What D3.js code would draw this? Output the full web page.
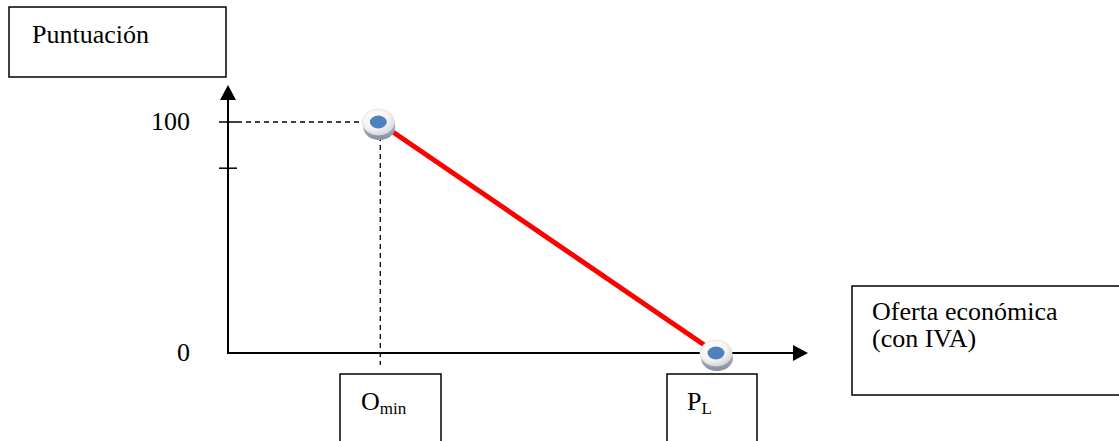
<!DOCTYPE html>
<html>
<head>
<meta charset="utf-8">
<script src="https://cdn.jsdelivr.net/npm/d3@7"></script>
<style>
  body { margin: 0; background: #fff; }
</style>
</head>
<body>
<div id="chart"></div>
<script>
// chart data
var pointNames = ["Omin", "PL"];
var offerValues = [30.8, 100];     // position on the offer axis
var scoreValues = [100, 0];        // puntuación
var yTickValues = [100, 80];
var yTickLabels = ["100", ""];
var zeroLabel = "0";
var yTitle = "Puntuación";
var xTitleLines = ["Oferta económica", "(con IVA)"];
var xBoxLabels = [{main: "O", sub: "min"}, {main: "P", sub: "L"}];

var width = 1119, height = 441;
var serif = "'Liberation Serif', 'Times New Roman', Times, serif";

var svg = d3.select("#chart")
  .append("svg")
    .attr("width", width)
    .attr("height", height)
    .style("font-family", serif);

var defs = svg.append("defs");
var grad = defs.append("radialGradient").attr("id", "btn").attr("cx", "40%").attr("cy", "35%").attr("r", "70%");
grad.append("stop").attr("offset", "0%").attr("stop-color", "#ffffff");
grad.append("stop").attr("offset", "60%").attr("stop-color", "#f4f4f4");
grad.append("stop").attr("offset", "100%").attr("stop-color", "#d2d2d2");
var shade = defs.append("linearGradient").attr("id", "shade").attr("x1", 0).attr("y1", 0).attr("x2", 0).attr("y2", 1);
shade.append("stop").attr("offset", "0%").attr("stop-color", "#c3c9d4");
shade.append("stop").attr("offset", "100%").attr("stop-color", "#8590a3");

// scales
var x = d3.scaleLinear().domain([0, 100]).range([228, 716]);
var y = d3.scaleLinear().domain([0, 100]).range([353, 122]);
var xEnd = 808, yEnd = 85;

// label boxes
svg.append("rect").attr("x", 9).attr("y", 7).attr("width", 217).attr("height", 70)
  .attr("fill", "none").attr("stroke", "#000").attr("stroke-width", 1.5);
svg.append("text").attr("x", 32).attr("y", 43).attr("font-family", serif).style("font-size", "26px").text(yTitle);

svg.append("rect").attr("x", 852).attr("y", 286).attr("width", 280).attr("height", 109)
  .attr("fill", "none").attr("stroke", "#000").attr("stroke-width", 1.5);
svg.selectAll("text.xtitle")
  .data(xTitleLines)
  .enter().append("text")
    .attr("class", "xtitle")
    .attr("x", 872)
    .attr("y", function(d, i) { return 320 + i * 27; })
    .attr("font-family", serif)
    .style("font-size", "26px")
    .text(function(d) { return d; });

// boxes under the x axis
var boxW = [101, 90];
var boxLeft = [340, 667];
var bx = svg.selectAll("g.xbox")
  .data(xBoxLabels)
  .enter().append("g").attr("class", "xbox");
bx.append("rect")
  .attr("x", function(d, i) { return boxLeft[i]; })
  .attr("y", 374)
  .attr("width", function(d, i) { return boxW[i]; })
  .attr("height", 100)
  .attr("fill", "#fff").attr("stroke", "#000").attr("stroke-width", 1.5);
var bt = bx.append("text")
  .attr("x", function(d, i) { return i === 0 ? 361 : 687; })
  .attr("y", 410)
  .attr("font-family", serif)
  .style("font-size", "26px");
bt.append("tspan").text(function(d) { return d.main; });
bt.append("tspan").attr("dy", 4).style("font-size", "17px").text(function(d) { return d.sub; });

// axes
svg.append("line").attr("x1", x(0)).attr("y1", y(0)).attr("x2", xEnd - 12).attr("y2", y(0))
  .attr("stroke", "#000").attr("stroke-width", 2);
svg.append("path")
  .attr("d", "M" + xEnd + "," + y(0) + "L" + (xEnd - 15) + "," + (y(0) - 8) + "L" + (xEnd - 15) + "," + (y(0) + 8) + "Z")
  .attr("fill", "#000");
svg.append("line").attr("x1", x(0)).attr("y1", y(0) + 1).attr("x2", x(0)).attr("y2", yEnd + 12)
  .attr("stroke", "#000").attr("stroke-width", 2);
svg.append("path")
  .attr("d", "M" + x(0) + "," + yEnd + "L" + (x(0) - 8) + "," + (yEnd + 15) + "L" + (x(0) + 8) + "," + (yEnd + 15) + "Z")
  .attr("fill", "#000");

svg.selectAll("line.ytick")
  .data(yTickValues)
  .enter().append("line")
    .attr("class", "ytick")
    .attr("x1", x(0) - 9).attr("x2", x(0) + 9)
    .attr("y1", function(d) { return y(d); })
    .attr("y2", function(d) { return y(d); })
    .attr("stroke", "#000").attr("stroke-width", 1.5);
svg.selectAll("text.ylab")
  .data(yTickValues)
  .enter().append("text")
    .attr("class", "ylab")
    .attr("x", 190)
    .attr("y", function(d) { return y(d) + 8; })
    .attr("text-anchor", "end")
    .attr("font-family", serif)
    .style("font-size", "26px")
    .text(function(d, i) { return yTickLabels[i]; });
svg.append("text").attr("x", 190).attr("y", y(0) + 8).attr("text-anchor", "end")
  .attr("font-family", serif).style("font-size", "26px").text(zeroLabel);

// dashed guides to the top point
svg.append("line").attr("x1", x(0) + 9).attr("y1", y(scoreValues[0])).attr("x2", x(offerValues[0]) - 14).attr("y2", y(scoreValues[0]))
  .attr("stroke", "#000").attr("stroke-width", 1.3).attr("stroke-dasharray", "5,4");
svg.append("line").attr("x1", x(offerValues[0]) + 2).attr("y1", y(scoreValues[0]) + 14).attr("x2", x(offerValues[0]) + 2).attr("y2", y(0) + 12)
  .attr("stroke", "#000").attr("stroke-width", 1.3).attr("stroke-dasharray", "5,4");

// red score line
var pts = pointNames.map(function(n, i) { return {name: n, x: offerValues[i], y: scoreValues[i]}; });
svg.append("path")
  .datum(pts)
  .attr("d", d3.line().x(function(d) { return x(d.x); }).y(function(d) { return y(d.y); }))
  .attr("fill", "none").attr("stroke", "#ff0000").attr("stroke-width", 5);

// button markers
var m = svg.selectAll("g.mark")
  .data(pts)
  .enter().append("g").attr("class", "mark")
    .attr("transform", function(d) { return "translate(" + x(d.x) + "," + y(d.y) + ")"; });
m.append("ellipse").attr("cx", 1).attr("cy", 5).attr("rx", 16).attr("ry", 13).attr("fill", "url(#shade)");
m.append("ellipse").attr("cx", 0).attr("cy", 0).attr("rx", 16).attr("ry", 13).attr("fill", "url(#btn)")
  .attr("stroke", "#e0e0e0").attr("stroke-width", 0.8);
m.append("ellipse").attr("cx", 0).attr("cy", 0).attr("rx", 8.5).attr("ry", 6.5).attr("fill", "#4f81bd");
</script>
</body>
</html>
